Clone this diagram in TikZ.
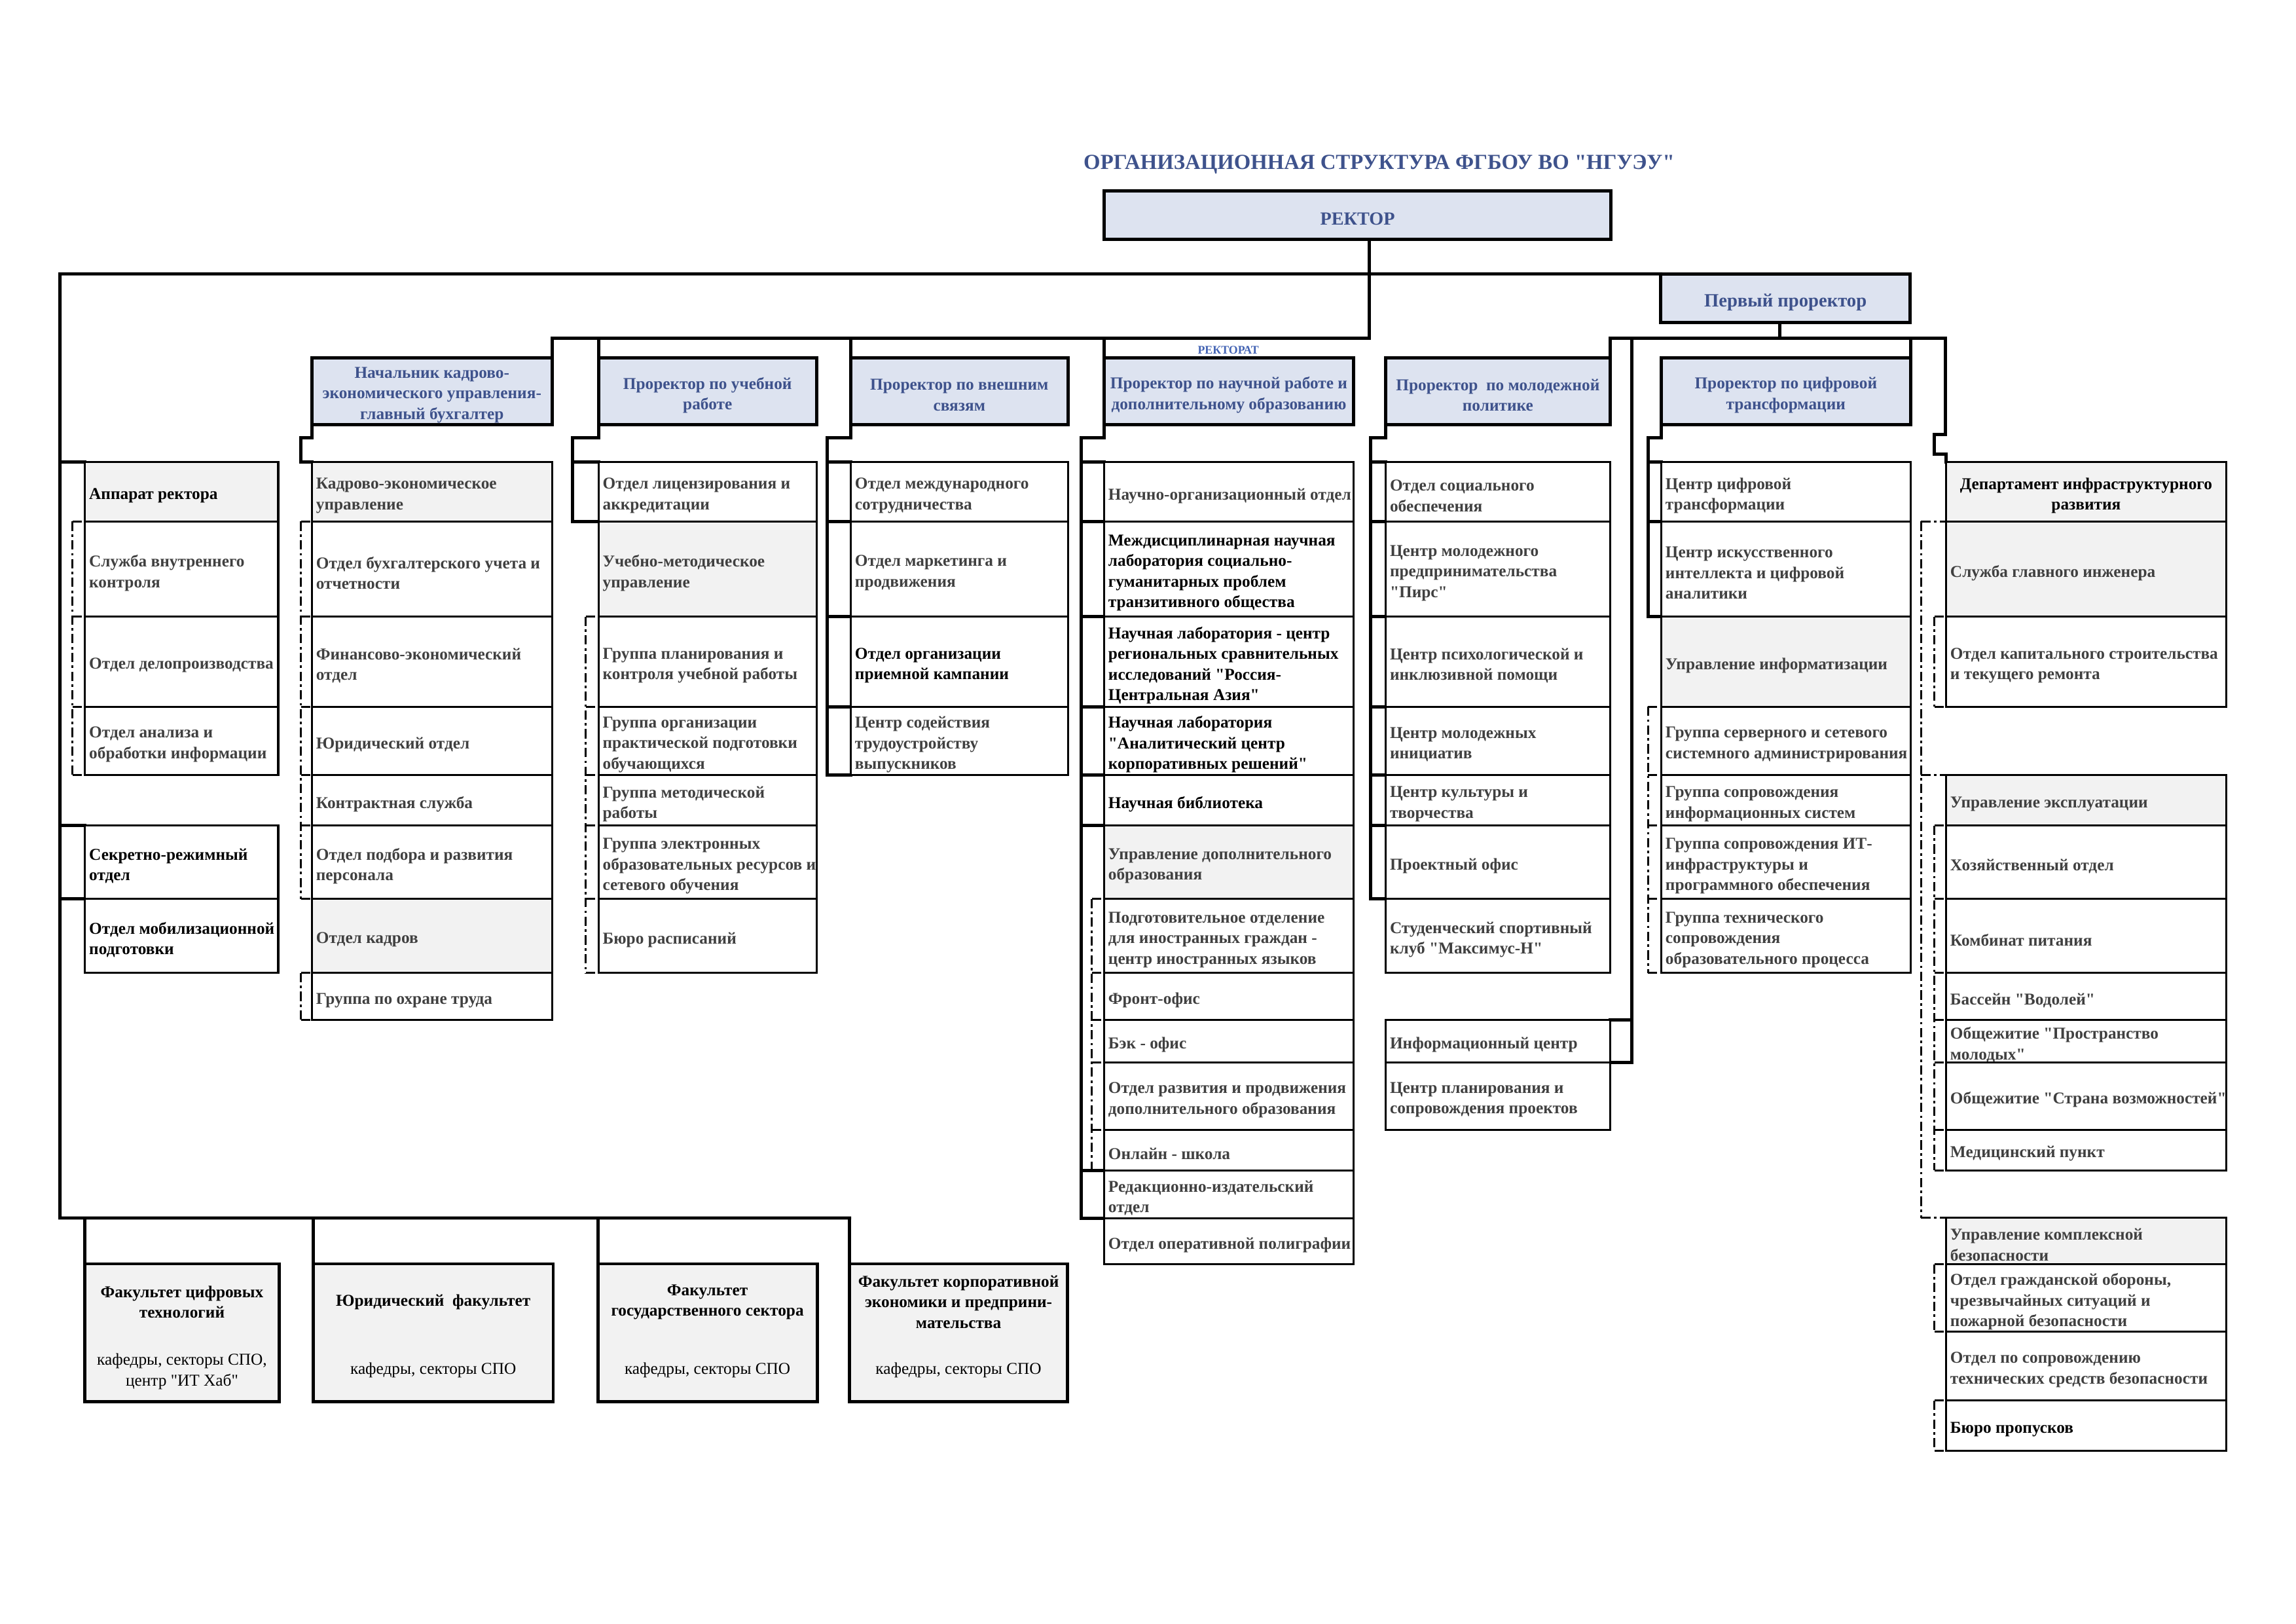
\documentclass[tikz,border=0pt]{standalone}
\usepackage{fontspec}
\setmainfont{Liberation Serif}[Ligatures=TeXOff]
\usetikzlibrary{calc}
\definecolor{headfill}{RGB}{221,227,240}
\definecolor{headtext}{RGB}{62,82,140}
\definecolor{grayfill}{RGB}{242,242,242}
\definecolor{bodytext}{RGB}{64,64,64}
\definecolor{rtext}{RGB}{68,100,180}
\newcommand\fsz{\fontsize{6.1}{7.6}\selectfont}
\def\U{0.18941}
\def\YA{315.6}\def\YB{356.1}\def\YC{421}\def\YD{482.5}\def\YE{529}\def\YF{563.7}\def\YG{613.7}
\def\YH{664.3}\def\YI{696.4}\def\YJ{725.3}\def\YK{771.3}\def\YL{799}\def\YM{831.7}\def\YN{863.3}
\pgfdeclarelayer{bg}
\pgfsetlayers{bg,main}
\tikzset{
  box/.style={draw, line width=0.75pt, fill=white, inner sep=0pt, outer sep=0pt},
  gbox/.style={box, fill=grayfill},
  txt/.style={inner sep=0pt, outer sep=0pt, align=left, font=\fsz\bfseries, text=bodytext},
  btxt/.style={txt, text=black},
  head/.style={draw, line width=1.2pt, fill=headfill, inner sep=0pt, outer sep=0pt},
  htxt/.style={inner sep=0pt, outer sep=0pt, align=center, text=headtext, font=\fsz\bfseries},
  ctxt/.style={inner sep=0pt, outer sep=0pt, align=center, text=black, font=\fsz\bfseries},
  fbox/.style={draw, line width=1.2pt, fill=grayfill, inner sep=0pt, outer sep=0pt},
  ftit/.style={inner sep=0pt, align=center, font=\fsz\bfseries, text=black},
  fsub/.style={inner sep=0pt, align=center, font=\fsz, text=black},
  conn/.style={line width=1.2pt, line cap=rect},
  dconn/.style={line width=0.75pt, dash pattern=on 3.4pt off 1.3pt on 0.9pt off 1.3pt},
}
% box with left text: name x1 y1 x2 y2 boxstyle textstyle text
\newcommand\bx[8]{%
  \pgfmathsetmacro\bxw{(#4-#2)*\U}%
  \pgfmathsetmacro\bxh{(#5-#3)*\U}%
  \node[#6, minimum width=\bxw mm, minimum height=\bxh mm] (#1) at ({(#2+#4)/2},{(#3+#5)/2}) {};%
  \node[#7, anchor=west] (#1t) at ([xshift=0.55mm,yshift=-0.5mm]#1.west) {#8};}
% box with centred text
\newcommand\hb[8]{%
  \pgfmathsetmacro\bxw{(#4-#2)*\U}%
  \pgfmathsetmacro\bxh{(#5-#3)*\U}%
  \node[#6, minimum width=\bxw mm, minimum height=\bxh mm] (#1) at ({(#2+#4)/2},{(#3+#5)/2}) {};%
  \node[#7] (#1t) at ([yshift=-0.5mm]#1.center) {#8};}
% empty box
\newcommand\fb[6]{%
  \pgfmathsetmacro\bxw{(#4-#2)*\U}%
  \pgfmathsetmacro\bxh{(#5-#3)*\U}%
  \node[#6, minimum width=\bxw mm, minimum height=\bxh mm] (#1) at ({(#2+#4)/2},{(#3+#5)/2}) {};}
% dashed spine: x-coordinate name, first node, last node, list
\newcommand\dl[4]{%
  \draw[dconn] (#1 |- #2.north west) -- (#1 |- #3.south west);
  \foreach \n in {#4} \draw[dconn] (#1 |- \n.north west) -- (\n.north west);
  \draw[dconn] (#1 |- #3.south west) -- (#3.south west);}

\begin{document}
\begin{tikzpicture}[x=0.18941mm,y=-0.18941mm]
\useasboundingbox (0,0) rectangle (1568,1108.8);
\begin{pgfonlayer}{bg}
\fill[white] (0,0) rectangle (1568,1108.8);
\end{pgfonlayer}

% title
\node[font=\fontsize{7.9}{9}\selectfont\bfseries, text=headtext] (title) at (941.8,112.4) {ОРГАНИЗАЦИОННАЯ СТРУКТУРА ФГБОУ ВО "НГУЭУ"};

% top heads
\hb{rector}{754.2}{130.5}{1100}{163.3}{head}{htxt, font=\fontsize{6.8}{8}\selectfont\bfseries}{РЕКТОР}
\hb{first}{1134}{187}{1304.6}{220.3}{head}{htxt, font=\fontsize{6.9}{8}\selectfont\bfseries}{Первый проректор}
\node[font=\fontsize{4.3}{5}\selectfont\bfseries, text=rtext, inner sep=0pt] (rtag) at (838.8,239) {РЕКТОРАТ};

% column heads
\hb{hB}{213}{244.3}{377}{290}{head}{htxt}{Начальник кадрово-\\экономического управления-\\главный бухгалтер}
\hb{hC}{408.7}{244.3}{557.7}{290}{head}{htxt}{Проректор по учебной\\работе}
\hb{hD}{581}{244.3}{729.3}{290}{head}{htxt}{Проректор по внешним\\связям}
\hb{hE}{754}{244.3}{924.4}{290}{head}{htxt}{Проректор по научной работе и\\дополнительному образованию}
\hb{hF}{946.3}{244.3}{1099.5}{290}{head}{htxt}{Проректор~ по молодежной\\политике}
\hb{hG}{1134.5}{244.3}{1304.7}{290}{head}{htxt}{Проректор по цифровой\\трансформации}

% Column A
\bx{a1}{58}{\YA}{190}{\YB}{gbox}{btxt}{Аппарат ректора}
\bx{a2}{58}{\YB}{190}{\YC}{box}{txt}{Служба внутреннего\\контроля}
\bx{a3}{58}{\YC}{190}{\YD}{box}{txt}{Отдел делопроизводства}
\bx{a4}{58}{\YD}{190}{\YE}{box}{txt}{Отдел анализа и\\обработки информации}
\bx{a5}{58}{\YF}{190}{\YG}{box}{btxt}{Секретно-режимный\\отдел}
\bx{a6}{58}{\YG}{190}{\YH}{box}{btxt}{Отдел мобилизационной\\подготовки}

% Column B
\bx{b1}{213}{\YA}{377}{\YB}{gbox}{txt}{Кадрово-экономическое\\управление}
\bx{b2}{213}{\YB}{377}{\YC}{box}{txt}{Отдел бухгалтерского учета и\\отчетности}
\bx{b3}{213}{\YC}{377}{\YD}{box}{txt}{Финансово-экономический\\отдел}
\bx{b4}{213}{\YD}{377}{\YE}{box}{txt}{Юридический отдел}
\bx{b5}{213}{\YE}{377}{\YF}{box}{txt}{Контрактная служба}
\bx{b6}{213}{\YF}{377}{\YG}{box}{txt}{Отдел подбора и развития\\персонала}
\bx{b7}{213}{\YG}{377}{\YH}{gbox}{txt}{Отдел кадров}
\bx{b8}{213}{\YH}{377}{\YI}{box}{txt}{Группа по охране труда}

% Column C
\bx{c1}{408.7}{\YA}{557.7}{\YB}{box}{txt}{Отдел лицензирования и\\аккредитации}
\bx{c2}{408.7}{\YB}{557.7}{\YC}{gbox}{txt}{Учебно-методическое\\управление}
\bx{c3}{408.7}{\YC}{557.7}{\YD}{box}{txt}{Группа планирования и\\контроля учебной работы}
\bx{c4}{408.7}{\YD}{557.7}{\YE}{box}{txt}{Группа организации\\практической подготовки\\обучающихся}
\bx{c5}{408.7}{\YE}{557.7}{\YF}{box}{txt}{Группа методической\\работы}
\bx{c6}{408.7}{\YF}{557.7}{\YG}{box}{txt}{Группа электронных\\образовательных ресурсов и\\сетевого обучения}
\bx{c7}{408.7}{\YG}{557.7}{\YH}{box}{txt}{Бюро расписаний}

% Column D
\bx{d1}{581}{\YA}{729.3}{\YB}{box}{txt}{Отдел международного\\сотрудничества}
\bx{d2}{581}{\YB}{729.3}{\YC}{box}{txt}{Отдел маркетинга и\\продвижения}
\bx{d3}{581}{\YC}{729.3}{\YD}{box}{btxt}{Отдел организации\\приемной кампании}
\bx{d4}{581}{\YD}{729.3}{\YE}{box}{txt}{Центр содействия\\трудоустройству\\выпускников}

% Column E
\bx{e1}{754}{\YA}{924.4}{\YB}{box}{txt}{Научно-организационный отдел}
\bx{e2}{754}{\YB}{924.4}{\YC}{box}{btxt}{Междисциплинарная научная\\лаборатория социально-\\гуманитарных проблем\\транзитивного общества}
\bx{e3}{754}{\YC}{924.4}{\YD}{box}{btxt}{Научная лаборатория - центр\\региональных сравнительных\\исследований "Россия-\\Центральная Азия"}
\bx{e4}{754}{\YD}{924.4}{\YE}{box}{btxt}{Научная лаборатория\\"Аналитический центр\\корпоративных решений"}
\bx{e5}{754}{\YE}{924.4}{\YF}{box}{btxt}{Научная библиотека}
\bx{e6}{754}{\YF}{924.4}{\YG}{gbox}{txt}{Управление дополнительного\\образования}
\bx{e7}{754}{\YG}{924.4}{\YH}{box}{txt}{Подготовительное отделение\\для иностранных граждан -\\центр иностранных языков}
\bx{e8}{754}{\YH}{924.4}{\YI}{box}{txt}{Фронт-офис}
\bx{e9}{754}{\YI}{924.4}{\YJ}{box}{txt}{Бэк - офис}
\bx{e10}{754}{\YJ}{924.4}{\YK}{box}{txt}{Отдел развития и продвижения\\дополнительного образования}
\bx{e11}{754}{\YK}{924.4}{\YL}{box}{txt}{Онлайн - школа}
\bx{e12}{754}{\YL}{924.4}{\YM}{box}{txt}{Редакционно-издательский\\отдел}
\bx{e13}{754}{\YM}{924.4}{\YN}{box}{txt}{Отдел оперативной полиграфии}

% Column F
\bx{f1}{946.3}{\YA}{1099.5}{\YB}{box}{txt}{Отдел социального\\обеспечения}
\bx{f2}{946.3}{\YB}{1099.5}{\YC}{box}{txt}{Центр молодежного\\предпринимательства\\"Пирс"}
\bx{f3}{946.3}{\YC}{1099.5}{\YD}{box}{txt}{Центр психологической и\\инклюзивной помощи}
\bx{f4}{946.3}{\YD}{1099.5}{\YE}{box}{txt}{Центр молодежных\\инициатив}
\bx{f5}{946.3}{\YE}{1099.5}{\YF}{box}{txt}{Центр культуры и\\творчества}
\bx{f6}{946.3}{\YF}{1099.5}{\YG}{box}{txt}{Проектный офис}
\bx{f7}{946.3}{\YG}{1099.5}{\YH}{box}{txt}{Студенческий спортивный\\клуб "Максимус-Н"}
\bx{f8}{946.3}{\YI}{1099.5}{\YJ}{box}{txt}{Информационный центр}
\bx{f9}{946.3}{\YJ}{1099.5}{\YK}{box}{txt}{Центр планирования и\\сопровождения проектов}

% Column G
\bx{g1}{1134.5}{\YA}{1304.7}{\YB}{box}{txt}{Центр цифровой\\трансформации}
\bx{g2}{1134.5}{\YB}{1304.7}{\YC}{box}{txt}{Центр искусственного\\интеллекта и цифровой\\аналитики}
\bx{g3}{1134.5}{\YC}{1304.7}{\YD}{gbox}{txt}{Управление информатизации}
\bx{g4}{1134.5}{\YD}{1304.7}{\YE}{box}{txt}{Группа серверного и сетевого\\системного администрирования}
\bx{g5}{1134.5}{\YE}{1304.7}{\YF}{box}{txt}{Группа сопровождения\\информационных систем}
\bx{g6}{1134.5}{\YF}{1304.7}{\YG}{box}{txt}{Группа сопровождения ИТ-\\инфраструктуры и\\программного обеспечения}
\bx{g7}{1134.5}{\YG}{1304.7}{\YH}{box}{txt}{Группа технического\\сопровождения\\образовательного процесса}

% Column H
\hb{h1}{1329}{\YA}{1520.3}{\YB}{gbox}{ctxt}{Департамент инфраструктурного\\развития}
\bx{h2}{1329}{\YB}{1520.3}{\YC}{gbox}{txt}{Служба главного инженера}
\bx{h3}{1329}{\YC}{1520.3}{\YD}{box}{txt}{Отдел капитального строительства\\и текущего ремонта}
\bx{h4}{1329}{\YE}{1520.3}{\YF}{gbox}{txt}{Управление эксплуатации}
\bx{h5}{1329}{\YF}{1520.3}{\YG}{box}{txt}{Хозяйственный отдел}
\bx{h6}{1329}{\YG}{1520.3}{\YH}{box}{txt}{Комбинат питания}
\bx{h7}{1329}{\YH}{1520.3}{\YI}{box}{txt}{Бассейн "Водолей"}
\bx{h8}{1329}{\YI}{1520.3}{\YJ}{box}{txt}{Общежитие "Пространство\\молодых"}
\bx{h9}{1329}{\YJ}{1520.3}{\YK}{box}{txt}{Общежитие "Страна возможностей"}
\bx{h10}{1329}{\YK}{1520.3}{\YL}{box}{txt}{Медицинский пункт}
\bx{k1}{1329}{831.5}{1520.3}{863.2}{gbox}{txt}{Управление комплексной\\безопасности}
\bx{k2}{1329}{863.2}{1520.3}{909}{box}{txt}{Отдел гражданской обороны,\\чрезвычайных ситуаций и\\пожарной безопасности}
\bx{k3}{1329}{909}{1520.3}{956.3}{box}{txt}{Отдел по сопровождению\\технических средств безопасности}
\bx{k4}{1329}{956.3}{1520.3}{990.5}{box}{btxt}{Бюро пропусков}

% Faculties
\fb{fac1}{57.8}{862.9}{190.8}{956.8}{fbox}
\fb{fac2}{213.9}{862.9}{377.8}{956.8}{fbox}
\fb{fac3}{408.3}{862.9}{558}{956.8}{fbox}
\fb{fac4}{580.2}{862.9}{729}{956.8}{fbox}
\node[ftit] (fac1a) at (fac1.center |- 0,889) {Факультет цифровых\\технологий};
\node[fsub] (fac1b) at (fac1.center |- 0,936.5) {кафедры, секторы СПО,\\центр "ИТ Хаб"};
\node[ftit] (fac2a) at (fac2.center |- 0,889) {Юридический~ факультет};
\node[fsub] (fac2b) at (fac2.center |- 0,935.5) {кафедры, секторы СПО};
\node[ftit] (fac3a) at (fac3.center |- 0,889) {Факультет\\государственного сектора};
\node[fsub] (fac3b) at (fac3.center |- 0,935.5) {кафедры, секторы СПО};
\node[ftit] (fac4a) at (fac4.center |- 0,889) {Факультет корпоративной\\экономики и предприни-\\мательства};
\node[fsub] (fac4b) at (fac4.center |- 0,935.5) {кафедры, секторы СПО};

% ---------- connectors ----------
\begin{pgfonlayer}{bg}
\coordinate (rJ) at (935,231);
\coordinate (tL) at (41,187);
\coordinate (bL) at (41,831.6);
\coordinate (fJ) at (1215.6,231);
\coordinate (hJ) at (1328.6,231);
\coordinate (sH1) at (1321,296.6);
\coordinate (sH2) at (1321,310);
\coordinate (iJ) at (1114.4,231);
\coordinate (cB) at (205.5,299);
\coordinate (cC) at (391,299);
\coordinate (cD) at (565,299);
\coordinate (cE) at (738.6,299);
\coordinate (cF) at (936,299);
\coordinate (cG) at (1125.4,299);
\coordinate (dA) at (49.5,0);
\coordinate (dB) at (205.5,0);
\coordinate (dC) at (400,0);
\coordinate (dE) at (745.6,0);
\coordinate (dG) at (1125.4,0);
\coordinate (dH) at (1312,0);
\coordinate (dI) at (1321,0);

% rector and buses
\draw[conn] (rJ |- rector.south) -- (rJ);
\draw[conn] (first.north west) -- (tL) -- (bL) -- (bL -| fac4.north west);
\draw[conn] (hB.north east) |- (rJ);
\foreach \n in {hC,hD,hE} \draw[conn] (\n.north west) -- (\n.north west |- rJ);
\draw[conn] (fJ |- first.south) -- (fJ);
\draw[conn] (hF.north east) |- (hJ) |- (sH1) -- (sH2) -| (h1.north west);
\draw[conn] (hG.north east) -- (hG.north east |- hJ);
\draw[conn] (iJ) |- (f8.south east);
\draw[conn] (iJ |- f8.north east) -- (f8.north east);
\foreach \n in {fac1,fac2,fac3,fac4} \draw[conn] (\n.north west) -- (\n.north west |- bL);

% column A
\foreach \n in {a1,a5,a6} \draw[conn] (tL |- \n.north west) -- (\n.north west);
\dl{dA}{a2}{a4}{a2,a3,a4}
% column B
\draw[conn] (hB.south west) |- (cB) |- (b1.north west);
\dl{dB}{b2}{b6}{b2,b3,b4,b5,b6}
\dl{dB}{b8}{b8}{b8}
% column C
\draw[conn] (hC.south west) |- (cC) |- (c1.south west);
\draw[conn] (cC |- c1.north west) -- (c1.north west);
\dl{dC}{c3}{c7}{c3,c4,c5,c6,c7}
% column D
\draw[conn] (hD.south west) |- (cD) |- (d4.south west);
\foreach \n in {d1,d2,d3,d4} \draw[conn] (cD |- \n.north west) -- (\n.north west);
% column E
\draw[conn] (hE.south west) |- (cE) |- (e12.south west);
\foreach \n in {e1,e2,e3,e4,e5,e6,e12} \draw[conn] (cE |- \n.north west) -- (\n.north west);
\dl{dE}{e7}{e11}{e7,e8,e9,e10,e11}
% column F
\draw[conn] (hF.south west) |- (cF) |- (f6.south west);
\foreach \n in {f1,f2,f3,f4,f5,f6} \draw[conn] (cF |- \n.north west) -- (\n.north west);
% column G
\draw[conn] (hG.south west) |- (cG) |- (g2.south west);
\foreach \n in {g1,g2} \draw[conn] (cG |- \n.north west) -- (\n.north west);
\dl{dG}{g4}{g7}{g4,g5,g6,g7}
% column H
\draw[dconn] (dH |- h2.north west) -- (dH |- k1.north west);
\foreach \n in {h2,h4,k1} \draw[dconn] (dH |- \n.north west) -- (\n.north west);
\dl{dI}{h3}{h3}{h3}
\dl{dI}{h5}{h10}{h5,h6,h7,h8,h9,h10}
\dl{dI}{k2}{k2}{k2}
\dl{dI}{k4}{k4}{k4}
\end{pgfonlayer}
\end{tikzpicture}
\end{document}
